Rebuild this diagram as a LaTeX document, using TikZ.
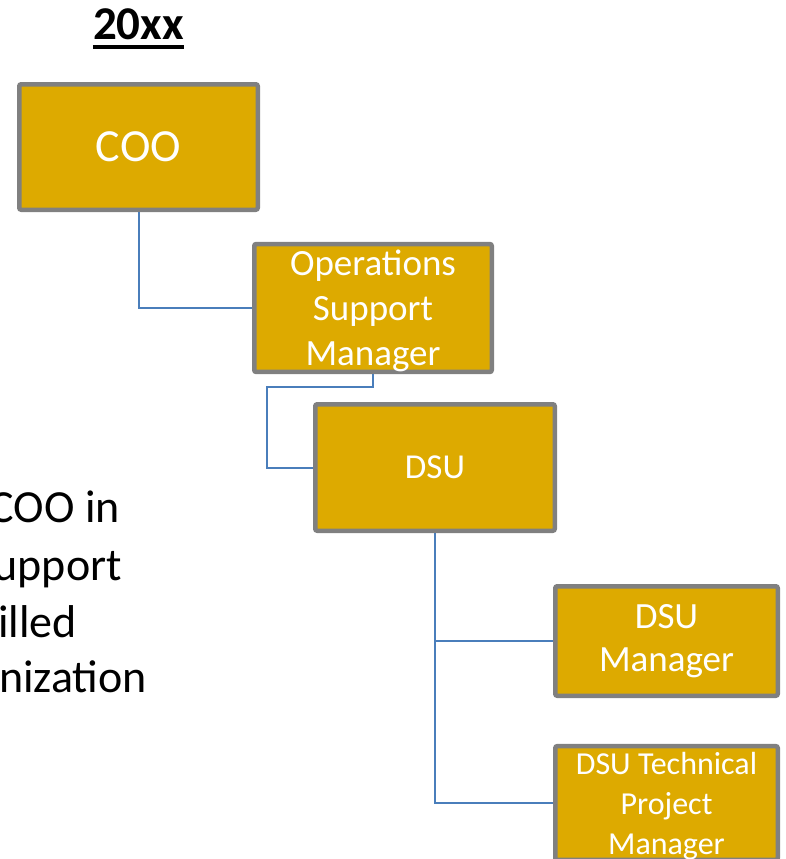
\documentclass[tikz,border=0pt]{standalone}
\usepackage{fontspec}
\setmainfont{Carlito}
\definecolor{boxgold}{RGB}{221,170,0}
\definecolor{boxgray}{RGB}{128,128,128}
\definecolor{connblue}{RGB}{74,126,187}
\tikzset{
  orgbox/.style={draw=boxgray, fill=boxgold, line width=4.5pt, rounded corners=2pt,
    text=white, align=center, inner sep=0pt},
  conn/.style={draw=connblue, line width=2pt},
  sidetext/.style={anchor=base east, inner sep=0pt, font=\fontsize{46}{57}\selectfont}
}
\begin{document}
\begin{tikzpicture}[x=1pt,y=-1pt]
\clip (0,0) rectangle (786,859);
\fill[white] (0,0) rectangle (786,859);

\node[anchor=base, inner sep=0pt, font=\fontsize{47}{56}\bfseries] (title) at (138.5,40) {20xx};
\draw[line width=3.5pt] ([yshift=-7pt]title.base west) -- ([yshift=-7pt]title.base east);

\node[orgbox, minimum width=238.5pt, minimum height=125.5pt, font=\fontsize{46}{55}\selectfont] (coo) at (138.5,147) {COO};
\node[orgbox, minimum width=237.5pt, minimum height=125.5pt, font=\fontsize{37}{45}\selectfont] (ops) at (373,308) {\parbox{200pt}{\centering\vspace*{6pt}Operations\\Support\\Manager}};
\node[orgbox, minimum width=239.5pt, minimum height=126.5pt, font=\fontsize{35}{43}\selectfont] (dsu) at (435,467.5) {DSU};
\node[orgbox, minimum width=222.5pt, minimum height=109.5pt, font=\fontsize{37}{43}\selectfont] (mgr) at (666.5,641) {DSU\\Manager};
\node[orgbox, minimum width=222.5pt, minimum height=109.5pt, font=\fontsize{32}{40}\selectfont] (tech) at (666.5,803) {\parbox{220pt}{\centering\vspace*{6pt}DSU Technical\\Project\\Manager}};

\coordinate (j1) at (267,387);
\draw[conn] (coo.south) |- (ops.west);
\draw[conn] (ops.south) |- (j1) |- (dsu.west);
\draw[conn] (dsu.south) |- (mgr.west);
\draw[conn] (dsu.south) |- (tech.west);

\node[sidetext] (t1) at (120,522) {COO in};
\node[sidetext] (t2) at (122,580) {upport};
\node[sidetext] (t3) at (77,637) {illed};
\node[sidetext] (t4) at (147,692) {nization};
\end{tikzpicture}
\end{document}
